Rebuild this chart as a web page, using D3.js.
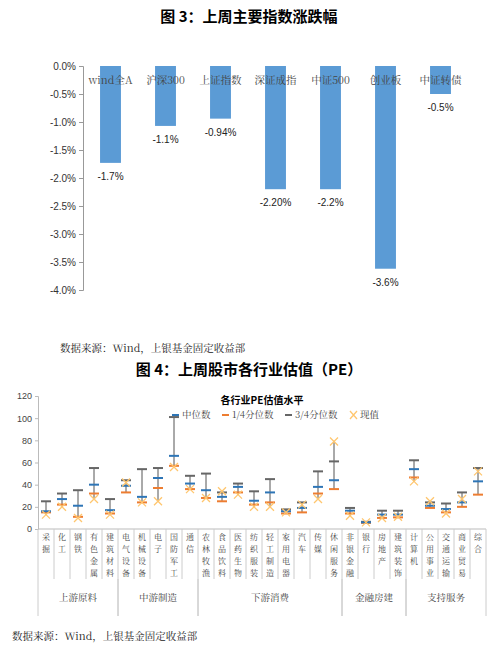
<!DOCTYPE html>
<html><head><meta charset="utf-8">
<script src="https://cdn.jsdelivr.net/npm/d3@7"></script>
<style>body{margin:0;background:#fff}svg{display:block}</style>
</head><body>
<script>
// top chart data
var idxNames = ["wind全A","沪深300","上证指数","深证成指","中证500","创业板","中证转债"];
var idxValues = [-1.73,-1.07,-0.94,-2.20,-2.20,-3.62,-0.50];
var idxLabels = ["-1.7%","-1.1%","-0.94%","-2.20%","-2.2%","-3.6%","-0.5%"];
var pctTicks = [0,-0.5,-1,-1.5,-2,-2.5,-3,-3.5,-4];

// bottom chart data
var industries = ["采掘","化工","钢铁","有色金属","建筑材料","电气设备","机械设备","电子","国防军工","通信","农林牧渔","食品饮料","医药生物","纺织服装","轻工制造","家用电器","汽车","传媒","休闲服务","非银金融","银行","房地产","建筑装饰","计算机","公用事业","交通运输","商业贸易","综合"];
var q3 = [25,32,35,55,27,44,54,55,101,48,50,33,41,34,45,17.7,24,52,61,19,6.5,16.5,16.5,62,24,23,33,55];
var median = [16,27,21,40,17,39,29,46,66,41,35,29,38,25.5,33,16,19,38,44,16.5,6,13,13,54,21,18,24,43];
var q1 = [15,22,11,32,14,33,24,37,57,36,28,25,33,22,24,14,15,32,36,14,5.5,10,10.5,46.5,19,15,20,31];
var current = [13,20,10,27,13,42,24,25,56,36,28,34,31,20,20,15,22,27,79,12,6,10,11,43,25,14,27,52];
var groups = [["上游原料",5],["中游制造",5],["下游消费",9],["金融房建",4],["支持服务",5]];
var peTicks = [0,20,40,60,80,100,120];

var svg = d3.select("body").append("svg").attr("width",499).attr("height",652);
var sans = "'Noto Sans CJK SC', sans-serif";
var serif = "'Noto Serif CJK SC', serif";

svg.append("text").attr("x",249).attr("y",22).attr("text-anchor","middle")
    .attr("font-family",sans).attr("font-size",15).attr("font-weight","bold")
    .text("图 3：上周主要指数涨跌幅");

// ---- top bar chart
var x1 = d3.scaleBand().domain(idxNames).range([83,468]).paddingInner(0.62).paddingOuter(0.31);
var y1 = d3.scaleLinear().domain([-4,0]).range([290,66]);

svg.append("g").attr("transform","translate(83,0)")
    .call(d3.axisLeft(y1).tickValues(pctTicks).tickFormat(d => d.toFixed(1)+"%").tickSize(4))
    .call(g => g.selectAll("text").attr("font-family","Liberation Sans").attr("font-size",10).attr("fill","#333"))
    .call(g => g.selectAll("line,path").attr("stroke","#999"));

svg.selectAll(".bar").data(idxValues).enter().append("rect")
    .attr("x",(d,i) => x1(idxNames[i])).attr("width",x1.bandwidth())
    .attr("y",y1(0)).attr("height",d => y1(d)-y1(0)).attr("fill","#5b9bd5");

svg.selectAll(".cat").data(idxNames).enter().append("text")
    .attr("x",d => x1(d)+x1.bandwidth()/2).attr("y",84).attr("text-anchor","middle")
    .attr("font-family",serif).attr("font-size",10.5).attr("fill","#444").text(d => d);

svg.selectAll(".lab").data(idxValues).enter().append("text")
    .attr("x",(d,i) => x1(idxNames[i])+x1.bandwidth()/2).attr("y",d => y1(d)+17).attr("text-anchor","middle")
    .attr("font-family","Liberation Sans").attr("font-size",10).attr("fill","#222").text((d,i) => idxLabels[i]);

svg.append("text").attr("x",60).attr("y",352).attr("font-family",serif)
    .attr("font-size",10.5).attr("fill","#222").text("数据来源：Wind，上银基金固定收益部");
svg.append("text").attr("x",249).attr("y",375).attr("text-anchor","middle")
    .attr("font-family",sans).attr("font-size",15).attr("font-weight","bold")
    .text("图 4：上周股市各行业估值（PE）");

// ---- bottom PE chart
var x2 = d3.scaleBand().domain(industries).range([38,486]);
var y2 = d3.scaleLinear().domain([0,120]).range([529,396]);

svg.append("g").attr("transform","translate(38,0)")
    .call(d3.axisLeft(y2).tickValues(peTicks).tickSize(3))
    .call(g => g.selectAll("text").attr("font-family","Liberation Sans").attr("font-size",9).attr("fill","#444"))
    .call(g => g.selectAll("line,path").attr("stroke","#bbb"));

// category axis with separators
var axisY = 529;
svg.append("line").attr("x1",38).attr("x2",486).attr("y1",axisY).attr("y2",axisY).attr("stroke","#bbb");
svg.selectAll(".sep").data(d3.range(industries.length+1)).enter().append("line")
    .attr("x1",i => 38+i*x2.step()).attr("x2",i => 38+i*x2.step())
    .attr("y1",axisY).attr("y2",axisY+50).attr("stroke","#ccc");
// one character per line, stacked
industries.forEach(function(name,i){
    var cx = x2(name)+x2.bandwidth()/2;
    name.split("").forEach(function(c,j){
        svg.append("text").attr("x",cx).attr("y",axisY+11+j*12).attr("text-anchor","middle")
            .attr("font-family",serif).attr("font-size",8).attr("fill","#444").text(c);
    });
});

var start = 0;
groups.forEach(function(g){
    var xa = 38+start*x2.step(), xb = 38+(start+g[1])*x2.step();
    svg.append("line").attr("x1",xa).attr("x2",xa).attr("y1",axisY+50).attr("y2",axisY+87).attr("stroke","#ccc");
    svg.append("line").attr("x1",xb).attr("x2",xb).attr("y1",axisY+50).attr("y2",axisY+87).attr("stroke","#ccc");
    svg.append("text").attr("x",(xa+xb)/2).attr("y",axisY+72).attr("text-anchor","middle")
        .attr("font-family",serif).attr("font-size",9.5).attr("fill","#444").text(g[0]);
    start += g[1];
});

// ranges and markers
industries.forEach(function(name,i){
    var cx = x2(name)+x2.bandwidth()/2;
    var hi = Math.max(q3[i],current[i]), lo = Math.min(q1[i],current[i]);
    svg.append("line").attr("x1",cx).attr("x2",cx).attr("y1",y2(hi)).attr("y2",y2(lo)).attr("stroke","#555").attr("stroke-width",1);
    [[q3[i],"#666"],[q1[i],"#ed7d31"],[median[i],"#2e75b6"]].forEach(function(m){
        svg.append("line").attr("x1",cx-5).attr("x2",cx+5).attr("y1",y2(m[0])).attr("y2",y2(m[0]))
            .attr("stroke",m[1]).attr("stroke-width",2);
    });
    var cy = y2(current[i]);
    svg.append("path").attr("d",`M${cx-4},${cy-4}L${cx+4},${cy+4}M${cx-4},${cy+4}L${cx+4},${cy-4}`)
        .attr("stroke","#ffc66e").attr("stroke-width",1.3).attr("fill","none");
});

// chart title and legend
svg.append("text").attr("x",262).attr("y",404).attr("text-anchor","middle")
    .attr("font-family",sans).attr("font-size",10).attr("font-weight","bold").text("各行业PE估值水平");
var leg = [["中位数","#2e75b6","line"],["1/4分位数","#ed7d31","line"],["3/4分位数","#666","line"],["现值","#ffc66e","x"]];
var lx = [172,222,285,350];
leg.forEach(function(d,i){
    var g = svg.append("g").attr("transform",`translate(${lx[i]},418)`);
    if (d[2]=="line") g.append("line").attr("x1",0).attr("x2",7).attr("y1",-3).attr("y2",-3).attr("stroke",d[1]).attr("stroke-width",2);
    else g.append("path").attr("d","M0,-7L7,1M0,1L7,-7").attr("stroke",d[1]).attr("stroke-width",1.3);
    g.append("text").attr("x",10).attr("y",0).attr("font-family",serif).attr("font-size",9.5).attr("fill","#444").text(d[0]);
});

svg.append("text").attr("x",12).attr("y",640).attr("font-family",serif)
    .attr("font-size",10.5).attr("fill","#222").text("数据来源：Wind，上银基金固定收益部");
</script>
</body></html>
